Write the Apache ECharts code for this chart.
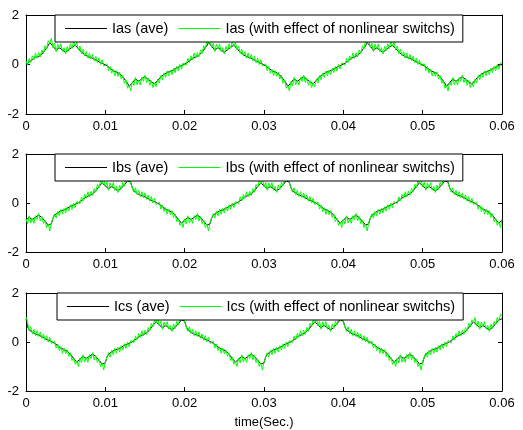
<!DOCTYPE html>
<html>
<head>
<meta charset="utf-8">
<script src="https://cdn.jsdelivr.net/npm/echarts@6/dist/echarts.min.js"></script>
<style>
  html, body { margin: 0; padding: 0; background: #fff; }
  #chart { width: 523px; height: 430px; }
</style>
</head>
<body>
<div id="chart"></div>
<script>
// sample step of the waveforms (sec)
const dt = 0.0002

// phase a current, averaged model
const iasAve = [
  0, 0.05, 0.1, 0.15, 0.2, 0.25, 0.3, 0.31, 0.32, 0.37, 0.42, 0.5, 0.58, 0.67, 0.76, 0.88, 0.87, 0.74, 0.66, 0.58, 0.63, 0.68, 0.64, 0.58, 0.5, 0.49, 0.55, 0.6, 0.65, 0.7, 0.74, 0.78, 0.71, 0.64, 0.57, 0.5, 0.45, 0.4, 0.36, 0.32, 0.3, 0.28, 0.25, 0.22, 0.18, 0.14, 0.11, 0.08, 0.05, 0.02,
  0, -0.05, -0.1, -0.15, -0.2, -0.25, -0.3, -0.31, -0.32, -0.37, -0.42, -0.5, -0.58, -0.67, -0.76, -0.88, -0.87, -0.74, -0.66, -0.58, -0.63, -0.68, -0.64, -0.58, -0.5, -0.49, -0.55, -0.6, -0.65, -0.7, -0.74, -0.78, -0.71, -0.64, -0.57, -0.5, -0.45, -0.4, -0.36, -0.32, -0.3, -0.28, -0.25, -0.22, -0.18, -0.14, -0.11, -0.08, -0.05, -0.02,
  0, 0.05, 0.1, 0.15, 0.2, 0.25, 0.3, 0.31, 0.32, 0.37, 0.42, 0.5, 0.58, 0.67, 0.76, 0.88, 0.87, 0.74, 0.66, 0.58, 0.63, 0.68, 0.64, 0.58, 0.5, 0.49, 0.55, 0.6, 0.65, 0.7, 0.74, 0.78, 0.71, 0.64, 0.57, 0.5, 0.45, 0.4, 0.36, 0.32, 0.3, 0.28, 0.25, 0.22, 0.18, 0.14, 0.11, 0.08, 0.05, 0.02,
  0, -0.05, -0.1, -0.15, -0.2, -0.25, -0.3, -0.31, -0.32, -0.37, -0.42, -0.5, -0.58, -0.67, -0.76, -0.88, -0.87, -0.74, -0.66, -0.58, -0.63, -0.68, -0.64, -0.58, -0.5, -0.49, -0.55, -0.6, -0.65, -0.7, -0.74, -0.78, -0.71, -0.64, -0.57, -0.5, -0.45, -0.4, -0.36, -0.32, -0.3, -0.28, -0.25, -0.22, -0.18, -0.14, -0.11, -0.08, -0.05, -0.02,
  0, 0.05, 0.1, 0.15, 0.2, 0.25, 0.3, 0.31, 0.32, 0.37, 0.42, 0.5, 0.58, 0.67, 0.76, 0.88, 0.87, 0.74, 0.66, 0.58, 0.63, 0.68, 0.64, 0.58, 0.5, 0.49, 0.55, 0.6, 0.65, 0.7, 0.74, 0.78, 0.71, 0.64, 0.57, 0.5, 0.45, 0.4, 0.36, 0.32, 0.3, 0.28, 0.25, 0.22, 0.18, 0.14, 0.11, 0.08, 0.05, 0.02,
  0, -0.05, -0.1, -0.15, -0.2, -0.25, -0.3, -0.31, -0.32, -0.37, -0.42, -0.5, -0.58, -0.67, -0.76, -0.88, -0.87, -0.74, -0.66, -0.58, -0.63, -0.68, -0.64, -0.58, -0.5, -0.49, -0.55, -0.6, -0.65, -0.7, -0.74, -0.78, -0.71, -0.64, -0.57, -0.5, -0.45, -0.4, -0.36, -0.32, -0.3, -0.28, -0.25, -0.22, -0.18, -0.14, -0.11, -0.08, -0.05, -0.02,
  0
]

// phase a current with switching ripple
const iasSw = [
  0.14, -0.03, 0.25, 0.08, 0.35, 0.19, 0.46, 0.25, 0.48, 0.31, 0.59, 0.44, 0.76, 0.62, 0.96, 0.84, 1.07, 0.69, 0.85, 0.52, 0.82, 0.63, 0.83, 0.52, 0.68, 0.43, 0.73, 0.55, 0.84, 0.65, 0.93, 0.74, 0.9, 0.59, 0.75, 0.44, 0.62, 0.34, 0.52, 0.26, 0.46, 0.22, 0.41, 0.15, 0.33, 0.07, 0.26, 0, 0.19, -0.06,
  -0.14, 0.03, -0.25, -0.08, -0.35, -0.19, -0.46, -0.25, -0.48, -0.31, -0.59, -0.44, -0.76, -0.62, -0.96, -0.84, -1.07, -0.69, -0.85, -0.52, -0.82, -0.63, -0.83, -0.52, -0.68, -0.43, -0.73, -0.55, -0.84, -0.65, -0.93, -0.74, -0.9, -0.59, -0.75, -0.44, -0.62, -0.34, -0.52, -0.26, -0.46, -0.22, -0.41, -0.15, -0.33, -0.07, -0.26, 0, -0.19, 0.06,
  0.14, -0.03, 0.25, 0.08, 0.35, 0.19, 0.46, 0.25, 0.48, 0.31, 0.59, 0.44, 0.76, 0.62, 0.96, 0.84, 1.07, 0.69, 0.85, 0.52, 0.82, 0.63, 0.83, 0.52, 0.68, 0.43, 0.73, 0.55, 0.84, 0.65, 0.93, 0.74, 0.9, 0.59, 0.75, 0.44, 0.62, 0.34, 0.52, 0.26, 0.46, 0.22, 0.41, 0.15, 0.33, 0.07, 0.26, 0, 0.19, -0.06,
  -0.14, 0.03, -0.25, -0.08, -0.35, -0.19, -0.46, -0.25, -0.48, -0.31, -0.59, -0.44, -0.76, -0.62, -0.96, -0.84, -1.07, -0.69, -0.85, -0.52, -0.82, -0.63, -0.83, -0.52, -0.68, -0.43, -0.73, -0.55, -0.84, -0.65, -0.93, -0.74, -0.9, -0.59, -0.75, -0.44, -0.62, -0.34, -0.52, -0.26, -0.46, -0.22, -0.41, -0.15, -0.33, -0.07, -0.26, 0, -0.19, 0.06,
  0.14, -0.03, 0.25, 0.08, 0.35, 0.19, 0.46, 0.25, 0.48, 0.31, 0.59, 0.44, 0.76, 0.62, 0.96, 0.84, 1.07, 0.69, 0.85, 0.52, 0.82, 0.63, 0.83, 0.52, 0.68, 0.43, 0.73, 0.55, 0.84, 0.65, 0.93, 0.74, 0.9, 0.59, 0.75, 0.44, 0.62, 0.34, 0.52, 0.26, 0.46, 0.22, 0.41, 0.15, 0.33, 0.07, 0.26, 0, 0.19, -0.06,
  -0.14, 0.03, -0.25, -0.08, -0.35, -0.19, -0.46, -0.25, -0.48, -0.31, -0.59, -0.44, -0.76, -0.62, -0.96, -0.84, -1.07, -0.69, -0.85, -0.52, -0.82, -0.63, -0.83, -0.52, -0.68, -0.43, -0.73, -0.55, -0.84, -0.65, -0.93, -0.74, -0.9, -0.59, -0.75, -0.44, -0.62, -0.34, -0.52, -0.26, -0.46, -0.22, -0.41, -0.15, -0.33, -0.07, -0.26, 0, -0.19, 0.06,
  0.06
]

// phase b
const ibsAve = [
  -0.7, -0.66, -0.58, -0.63, -0.68, -0.64, -0.58, -0.5, -0.49, -0.55, -0.6, -0.65, -0.74, -0.8, -0.9, -0.93, -0.85, -0.62, -0.5, -0.45, -0.4, -0.36, -0.32, -0.3, -0.28, -0.25, -0.22, -0.18, -0.14, -0.11, -0.08, -0.05, -0.02,
  0, 0.05, 0.1, 0.15, 0.2, 0.25, 0.3, 0.31, 0.32, 0.37, 0.42, 0.5, 0.58, 0.67, 0.72, 0.82, 0.8, 0.7, 0.66, 0.58, 0.63, 0.68, 0.64, 0.58, 0.5, 0.49, 0.55, 0.6, 0.65, 0.74, 0.8, 0.9, 0.93, 0.85, 0.62, 0.5, 0.45, 0.4, 0.36, 0.32, 0.3, 0.28, 0.25, 0.22, 0.18, 0.14, 0.11, 0.08, 0.05, 0.02,
  0, -0.05, -0.1, -0.15, -0.2, -0.25, -0.3, -0.31, -0.32, -0.37, -0.42, -0.5, -0.58, -0.67, -0.72, -0.82, -0.8, -0.7, -0.66, -0.58, -0.63, -0.68, -0.64, -0.58, -0.5, -0.49, -0.55, -0.6, -0.65, -0.74, -0.8, -0.9, -0.93, -0.85, -0.62, -0.5, -0.45, -0.4, -0.36, -0.32, -0.3, -0.28, -0.25, -0.22, -0.18, -0.14, -0.11, -0.08, -0.05, -0.02,
  0, 0.05, 0.1, 0.15, 0.2, 0.25, 0.3, 0.31, 0.32, 0.37, 0.42, 0.5, 0.58, 0.67, 0.72, 0.82, 0.8, 0.7, 0.66, 0.58, 0.63, 0.68, 0.64, 0.58, 0.5, 0.49, 0.55, 0.6, 0.65, 0.74, 0.8, 0.9, 0.93, 0.85, 0.62, 0.5, 0.45, 0.4, 0.36, 0.32, 0.3, 0.28, 0.25, 0.22, 0.18, 0.14, 0.11, 0.08, 0.05, 0.02,
  0, -0.05, -0.1, -0.15, -0.2, -0.25, -0.3, -0.31, -0.32, -0.37, -0.42, -0.5, -0.58, -0.67, -0.72, -0.82, -0.8, -0.7, -0.66, -0.58, -0.63, -0.68, -0.64, -0.58, -0.5, -0.49, -0.55, -0.6, -0.65, -0.74, -0.8, -0.9, -0.93, -0.85, -0.62, -0.5, -0.45, -0.4, -0.36, -0.32, -0.3, -0.28, -0.25, -0.22, -0.18, -0.14, -0.11, -0.08, -0.05, -0.02,
  0, 0.05, 0.1, 0.15, 0.2, 0.25, 0.3, 0.31, 0.32, 0.37, 0.42, 0.5, 0.58, 0.67, 0.72, 0.82, 0.8, 0.7, 0.66, 0.58, 0.63, 0.68, 0.64, 0.58, 0.5, 0.49, 0.55, 0.6, 0.65, 0.74, 0.8, 0.9, 0.93, 0.85, 0.62, 0.5, 0.45, 0.4, 0.36, 0.32, 0.3, 0.28, 0.25, 0.22, 0.18, 0.14, 0.11, 0.08, 0.05, 0.02,
  0, -0.05, -0.1, -0.15, -0.2, -0.25, -0.3, -0.31, -0.32, -0.37, -0.42, -0.5, -0.58, -0.67, -0.72, -0.82, -0.8, -0.7
]

const ibsSw = [
  -0.65, -0.85, -0.52, -0.82, -0.63, -0.83, -0.52, -0.68, -0.43, -0.73, -0.55, -0.84, -0.69, -1, -0.86, -1.14, -0.81, -0.81, -0.44, -0.62, -0.34, -0.52, -0.26, -0.46, -0.22, -0.41, -0.15, -0.33, -0.07, -0.26, 0, -0.19, 0.06,
  0.14, -0.03, 0.25, 0.08, 0.35, 0.19, 0.46, 0.25, 0.48, 0.31, 0.59, 0.44, 0.76, 0.62, 0.91, 0.78, 1, 0.65, 0.85, 0.52, 0.82, 0.63, 0.83, 0.52, 0.68, 0.43, 0.73, 0.55, 0.84, 0.69, 1, 0.86, 1.14, 0.81, 0.81, 0.44, 0.62, 0.34, 0.52, 0.26, 0.46, 0.22, 0.41, 0.15, 0.33, 0.07, 0.26, 0, 0.19, -0.06,
  -0.14, 0.03, -0.25, -0.08, -0.35, -0.19, -0.46, -0.25, -0.48, -0.31, -0.59, -0.44, -0.76, -0.62, -0.91, -0.78, -1, -0.65, -0.85, -0.52, -0.82, -0.63, -0.83, -0.52, -0.68, -0.43, -0.73, -0.55, -0.84, -0.69, -1, -0.86, -1.14, -0.81, -0.81, -0.44, -0.62, -0.34, -0.52, -0.26, -0.46, -0.22, -0.41, -0.15, -0.33, -0.07, -0.26, 0, -0.19, 0.06,
  0.14, -0.03, 0.25, 0.08, 0.35, 0.19, 0.46, 0.25, 0.48, 0.31, 0.59, 0.44, 0.76, 0.62, 0.91, 0.78, 1, 0.65, 0.85, 0.52, 0.82, 0.63, 0.83, 0.52, 0.68, 0.43, 0.73, 0.55, 0.84, 0.69, 1, 0.86, 1.14, 0.81, 0.81, 0.44, 0.62, 0.34, 0.52, 0.26, 0.46, 0.22, 0.41, 0.15, 0.33, 0.07, 0.26, 0, 0.19, -0.06,
  -0.14, 0.03, -0.25, -0.08, -0.35, -0.19, -0.46, -0.25, -0.48, -0.31, -0.59, -0.44, -0.76, -0.62, -0.91, -0.78, -1, -0.65, -0.85, -0.52, -0.82, -0.63, -0.83, -0.52, -0.68, -0.43, -0.73, -0.55, -0.84, -0.69, -1, -0.86, -1.14, -0.81, -0.81, -0.44, -0.62, -0.34, -0.52, -0.26, -0.46, -0.22, -0.41, -0.15, -0.33, -0.07, -0.26, 0, -0.19, 0.06,
  0.14, -0.03, 0.25, 0.08, 0.35, 0.19, 0.46, 0.25, 0.48, 0.31, 0.59, 0.44, 0.76, 0.62, 0.91, 0.78, 1, 0.65, 0.85, 0.52, 0.82, 0.63, 0.83, 0.52, 0.68, 0.43, 0.73, 0.55, 0.84, 0.69, 1, 0.86, 1.14, 0.81, 0.81, 0.44, 0.62, 0.34, 0.52, 0.26, 0.46, 0.22, 0.41, 0.15, 0.33, 0.07, 0.26, 0, 0.19, -0.06,
  -0.14, 0.03, -0.25, -0.08, -0.35, -0.19, -0.46, -0.25, -0.48, -0.31, -0.59, -0.44, -0.76, -0.62, -0.91, -0.78, -1, -0.65
]

// phase c
const icsAve = [
  0.95, 0.62, 0.5, 0.45, 0.4, 0.36, 0.32, 0.3, 0.28, 0.25, 0.22, 0.18, 0.14, 0.11, 0.08, 0.05, 0.02,
  0, -0.05, -0.1, -0.15, -0.2, -0.25, -0.3, -0.31, -0.32, -0.37, -0.42, -0.5, -0.58, -0.67, -0.72, -0.82, -0.8, -0.7, -0.66, -0.58, -0.63, -0.68, -0.64, -0.58, -0.5, -0.49, -0.55, -0.6, -0.65, -0.74, -0.8, -0.9, -0.93, -0.85, -0.62, -0.5, -0.45, -0.4, -0.36, -0.32, -0.3, -0.28, -0.25, -0.22, -0.18, -0.14, -0.11, -0.08, -0.05, -0.02,
  0, 0.05, 0.1, 0.15, 0.2, 0.25, 0.3, 0.31, 0.32, 0.37, 0.42, 0.5, 0.58, 0.67, 0.72, 0.82, 0.8, 0.7, 0.66, 0.58, 0.63, 0.68, 0.64, 0.58, 0.5, 0.49, 0.55, 0.6, 0.65, 0.74, 0.8, 0.9, 0.93, 0.85, 0.62, 0.5, 0.45, 0.4, 0.36, 0.32, 0.3, 0.28, 0.25, 0.22, 0.18, 0.14, 0.11, 0.08, 0.05, 0.02,
  0, -0.05, -0.1, -0.15, -0.2, -0.25, -0.3, -0.31, -0.32, -0.37, -0.42, -0.5, -0.58, -0.67, -0.72, -0.82, -0.8, -0.7, -0.66, -0.58, -0.63, -0.68, -0.64, -0.58, -0.5, -0.49, -0.55, -0.6, -0.65, -0.74, -0.8, -0.9, -0.93, -0.85, -0.62, -0.5, -0.45, -0.4, -0.36, -0.32, -0.3, -0.28, -0.25, -0.22, -0.18, -0.14, -0.11, -0.08, -0.05, -0.02,
  0, 0.05, 0.1, 0.15, 0.2, 0.25, 0.3, 0.31, 0.32, 0.37, 0.42, 0.5, 0.58, 0.67, 0.72, 0.82, 0.8, 0.7, 0.66, 0.58, 0.63, 0.68, 0.64, 0.58, 0.5, 0.49, 0.55, 0.6, 0.65, 0.74, 0.8, 0.9, 0.93, 0.85, 0.62, 0.5, 0.45, 0.4, 0.36, 0.32, 0.3, 0.28, 0.25, 0.22, 0.18, 0.14, 0.11, 0.08, 0.05, 0.02,
  0, -0.05, -0.1, -0.15, -0.2, -0.25, -0.3, -0.31, -0.32, -0.37, -0.42, -0.5, -0.58, -0.67, -0.72, -0.82, -0.8, -0.7, -0.66, -0.58, -0.63, -0.68, -0.64, -0.58, -0.5, -0.49, -0.55, -0.6, -0.65, -0.74, -0.8, -0.9, -0.93, -0.85, -0.62, -0.5, -0.45, -0.4, -0.36, -0.32, -0.3, -0.28, -0.25, -0.22, -0.18, -0.14, -0.11, -0.08, -0.05, -0.02,
  0, 0.05, 0.1, 0.15, 0.2, 0.25, 0.3, 0.31, 0.32, 0.37, 0.42, 0.5, 0.58, 0.67, 0.72, 0.82, 0.8, 0.7, 0.66, 0.58, 0.63, 0.68, 0.64, 0.58, 0.5, 0.49, 0.55, 0.6, 0.65, 0.74, 0.8, 0.9, 0.93, 0.95
]

const icsSw = [
  1.02, 0.81, 0.44, 0.62, 0.34, 0.52, 0.26, 0.46, 0.22, 0.41, 0.15, 0.33, 0.07, 0.26, 0, 0.19, -0.06,
  -0.14, 0.03, -0.25, -0.08, -0.35, -0.19, -0.46, -0.25, -0.48, -0.31, -0.59, -0.44, -0.76, -0.62, -0.91, -0.78, -1, -0.65, -0.85, -0.52, -0.82, -0.63, -0.83, -0.52, -0.68, -0.43, -0.73, -0.55, -0.84, -0.69, -1, -0.86, -1.14, -0.81, -0.81, -0.44, -0.62, -0.34, -0.52, -0.26, -0.46, -0.22, -0.41, -0.15, -0.33, -0.07, -0.26, 0, -0.19, 0.06,
  0.14, -0.03, 0.25, 0.08, 0.35, 0.19, 0.46, 0.25, 0.48, 0.31, 0.59, 0.44, 0.76, 0.62, 0.91, 0.78, 1, 0.65, 0.85, 0.52, 0.82, 0.63, 0.83, 0.52, 0.68, 0.43, 0.73, 0.55, 0.84, 0.69, 1, 0.86, 1.14, 0.81, 0.81, 0.44, 0.62, 0.34, 0.52, 0.26, 0.46, 0.22, 0.41, 0.15, 0.33, 0.07, 0.26, 0, 0.19, -0.06,
  -0.14, 0.03, -0.25, -0.08, -0.35, -0.19, -0.46, -0.25, -0.48, -0.31, -0.59, -0.44, -0.76, -0.62, -0.91, -0.78, -1, -0.65, -0.85, -0.52, -0.82, -0.63, -0.83, -0.52, -0.68, -0.43, -0.73, -0.55, -0.84, -0.69, -1, -0.86, -1.14, -0.81, -0.81, -0.44, -0.62, -0.34, -0.52, -0.26, -0.46, -0.22, -0.41, -0.15, -0.33, -0.07, -0.26, 0, -0.19, 0.06,
  0.14, -0.03, 0.25, 0.08, 0.35, 0.19, 0.46, 0.25, 0.48, 0.31, 0.59, 0.44, 0.76, 0.62, 0.91, 0.78, 1, 0.65, 0.85, 0.52, 0.82, 0.63, 0.83, 0.52, 0.68, 0.43, 0.73, 0.55, 0.84, 0.69, 1, 0.86, 1.14, 0.81, 0.81, 0.44, 0.62, 0.34, 0.52, 0.26, 0.46, 0.22, 0.41, 0.15, 0.33, 0.07, 0.26, 0, 0.19, -0.06,
  -0.14, 0.03, -0.25, -0.08, -0.35, -0.19, -0.46, -0.25, -0.48, -0.31, -0.59, -0.44, -0.76, -0.62, -0.91, -0.78, -1, -0.65, -0.85, -0.52, -0.82, -0.63, -0.83, -0.52, -0.68, -0.43, -0.73, -0.55, -0.84, -0.69, -1, -0.86, -1.14, -0.81, -0.81, -0.44, -0.62, -0.34, -0.52, -0.26, -0.46, -0.22, -0.41, -0.15, -0.33, -0.07, -0.26, 0, -0.19, 0.06,
  0.14, -0.03, 0.25, 0.08, 0.35, 0.19, 0.46, 0.25, 0.48, 0.31, 0.59, 0.44, 0.76, 0.62, 0.91, 0.78, 1, 0.65, 0.85, 0.52, 0.82, 0.63, 0.83, 0.52, 0.68, 0.43, 0.73, 0.55, 0.84, 0.69, 1, 0.86, 1.14, 1.08
]

const phases = ['Ias', 'Ibs', 'Ics']
const aveData = [iasAve, ibsAve, icsAve]
const swData = [iasSw, ibsSw, icsSw]

const font = '"Liberation Sans", Arial, sans-serif'
const gridTops = [15, 154, 293]
const gridHeights = [99, 98, 98]
const legendLefts = [55, 55, 57]

const pairs = vals => vals.map((v, k) => [k * dt, v])

const chart = echarts.init(document.getElementById('chart'))

const grid = []
const xAxis = []
const yAxis = []
const legend = []
const series = []

const tick = { show: true, inside: true, length: 4, lineStyle: { color: '#000', width: 1 } }
const line = { show: true, onZero: false, lineStyle: { color: '#000', width: 1 } }

phases.forEach((p, i) => {
  grid.push({ left: 26, width: 476, top: gridTops[i], height: gridHeights[i] })

  // bottom and top x axes
  xAxis.push({
    gridIndex: i, type: 'value', min: 0, max: 0.06, interval: 0.01, position: 'bottom',
    axisLine: line, axisTick: tick, splitLine: { show: false },
    axisLabel: { color: '#000', fontSize: 13, fontFamily: font, margin: 6 },
    name: i === 2 ? 'time(Sec.)' : '',
    nameLocation: 'middle', nameGap: 25,
    nameTextStyle: { color: '#000', fontSize: 13, fontFamily: font }
  })
  xAxis.push({
    gridIndex: i, type: 'value', min: 0, max: 0.06, interval: 0.01, position: 'top',
    axisLine: line, axisTick: tick, splitLine: { show: false }, axisLabel: { show: false }
  })

  // left and right y axes
  yAxis.push({
    gridIndex: i, type: 'value', min: -2, max: 2, interval: 2, position: 'left',
    axisLine: line, axisTick: tick, splitLine: { show: false },
    axisLabel: { color: '#000', fontSize: 13, fontFamily: font, margin: 7 }
  })
  yAxis.push({
    gridIndex: i, type: 'value', min: -2, max: 2, interval: 2, position: 'right',
    axisLine: line, axisTick: tick, splitLine: { show: false }, axisLabel: { show: false }
  })

  const nameAve = p + ' (ave)'
  const nameSw = p + ' (with effect of nonlinear switchs)'

  legend.push({
    left: legendLefts[i], top: gridTops[i],
    data: [nameAve, nameSw],
    selectedMode: false,
    icon: 'rect', itemWidth: 42, itemHeight: 1, itemGap: 10,
    padding: [6, 8, 6, 10],
    borderColor: '#000', borderWidth: 1, borderRadius: 0,
    backgroundColor: '#fff',
    textStyle: { color: '#000', fontSize: 14.5, fontFamily: font }
  })

  series.push({
    name: nameAve, type: 'line', xAxisIndex: 2 * i, yAxisIndex: 2 * i,
    data: pairs(aveData[i]), showSymbol: false, symbol: 'none',
    lineStyle: { color: '#000', width: 1 }, itemStyle: { color: '#000' }, z: 2
  })
  series.push({
    name: nameSw, type: 'line', xAxisIndex: 2 * i, yAxisIndex: 2 * i,
    data: pairs(swData[i]), showSymbol: false, symbol: 'none',
    lineStyle: { color: '#00ff00', width: 1 }, itemStyle: { color: '#00ff00' }, z: 3
  })
})

chart.setOption({
  animation: false,
  backgroundColor: '#fff',
  grid, xAxis, yAxis, legend, series
})
</script>
</body>
</html>
